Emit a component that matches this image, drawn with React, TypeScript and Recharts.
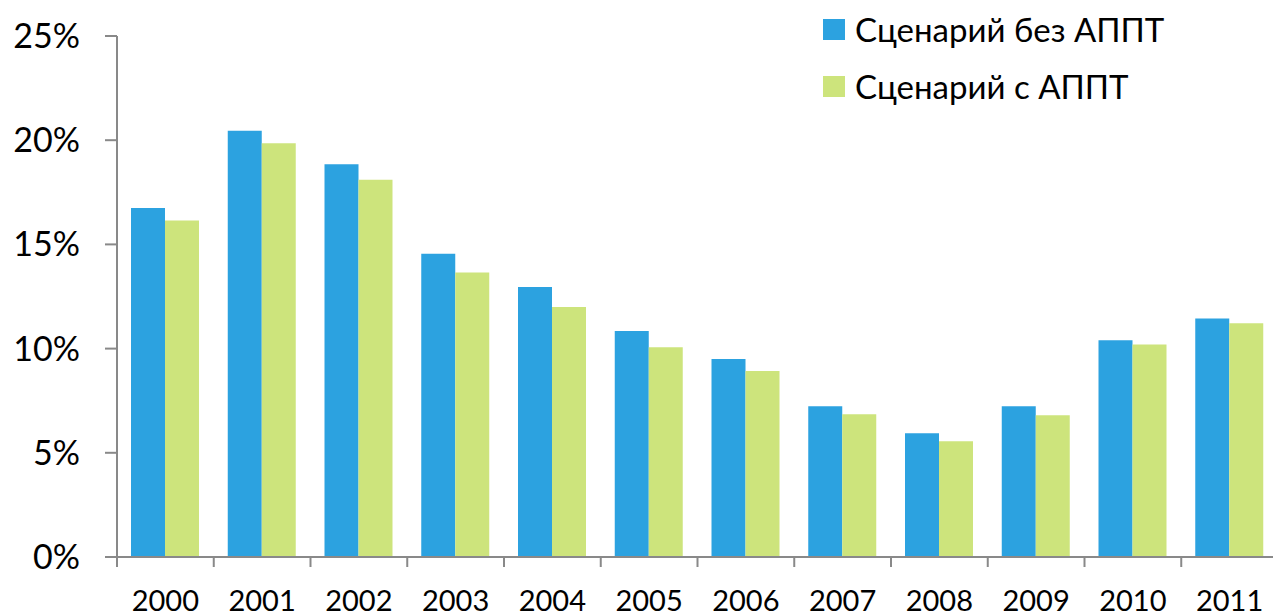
import React from 'react';
import { BarChart, Bar, XAxis, YAxis, Legend } from 'recharts';

const years = ['2000', '2001', '2002', '2003', '2004', '2005', '2006', '2007', '2008', '2009', '2010', '2011'];
const withoutAppt = [16.75, 20.45, 18.85, 14.55, 12.95, 10.85, 9.5, 7.23, 5.94, 7.23, 10.4, 11.45];
const withAppt = [16.15, 19.85, 18.1, 13.65, 12.0, 10.07, 8.92, 6.85, 5.55, 6.8, 10.2, 11.22];
const yTicks = [0, 5, 10, 15, 20, 25];

const seriesNames = ['Сценарий без АППТ', 'Сценарий с АППТ'];
const BLUE = '#2CA2E0';
const GREEN = '#CDE47C';
const AXIS = '#898989';
const FONT = "Lato, 'Open Sans', sans-serif";

const CHART_W = 1290;
const CHART_H = 614;
const MARGIN = { top: 36, right: 12, left: 0, bottom: 0 };
const Y_WIDTH = 117;
const BAND = (CHART_W - MARGIN.right - Y_WIDTH) / years.length;

const data = years.map((year, i) => ({
  year,
  a: withoutAppt[i],
  b: withAppt[i],
}));

// year label in the middle, tick mark on the category boundary
const YearTick = ({ x, y, payload }: any) => {
  const left = x - BAND / 2;
  return (
    <g>
      <line x1={left} y1={y} x2={left} y2={y + 10} stroke={AXIS} strokeWidth={2} />
      <text x={x} y={y + 54} textAnchor="middle" fill="#000" style={{ fontFamily: FONT, fontSize: 29 }}>
        {payload.value}
      </text>
    </g>
  );
};

const LegendBox = ({ payload }: any) => (
  <div style={{ fontFamily: FONT }}>
    {(payload || []).map((p: any) => (
      <div key={p.value} style={{ display: 'flex', alignItems: 'center', height: 57 }}>
        <div style={{ width: 22, height: 21, background: p.color, marginRight: 10 }} />
        <span style={{ fontSize: 33, lineHeight: '21px', color: '#000' }}>{p.value}</span>
      </div>
    ))}
  </div>
);

export default function App() {
  return (
    <div style={{ position: 'absolute', left: 0, top: 0, width: 1273, height: 614, overflow: 'hidden', background: '#fff' }}>
      <BarChart width={CHART_W} height={CHART_H} data={data} margin={MARGIN} barCategoryGap={14} barGap={0}>
        <XAxis
          dataKey="year"
          height={CHART_H - 557}
          axisLine={{ stroke: AXIS, strokeWidth: 2 }}
          tickLine={false}
          tickSize={0}
          tickMargin={0}
          tick={<YearTick />}
          interval={0}
        />
        <YAxis
          width={Y_WIDTH}
          domain={[0, 25]}
          ticks={yTicks}
          tickFormatter={(v: number) => `${v}%`}
          axisLine={{ stroke: AXIS, strokeWidth: 2 }}
          tickLine={{ stroke: AXIS, strokeWidth: 2 }}
          tickSize={12}
          tickMargin={25}
          tick={{ fill: '#000', fontSize: 34, fontFamily: FONT }}
        />
        <Legend
          verticalAlign="middle"
          align="center"
          layout="vertical"
          content={<LegendBox />}
          wrapperStyle={{ position: 'absolute', left: 823, top: 1, width: 440 }}
        />
        <Bar dataKey="a" name={seriesNames[0]} fill={BLUE} isAnimationActive={false} />
        <Bar dataKey="b" name={seriesNames[1]} fill={GREEN} isAnimationActive={false} />
      </BarChart>
    </div>
  );
}
